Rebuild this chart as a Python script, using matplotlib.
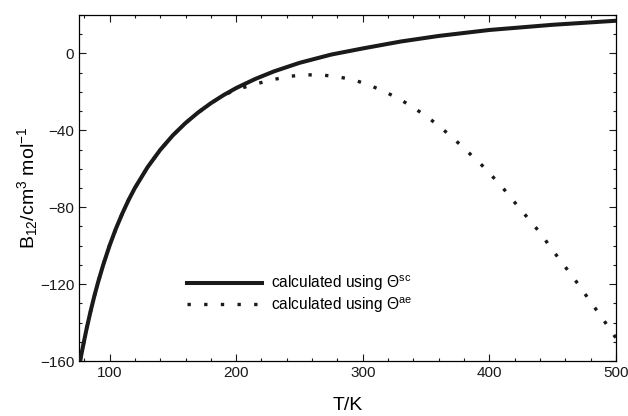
import matplotlib
matplotlib.use('Agg')
import matplotlib.pyplot as plt
from matplotlib.ticker import MultipleLocator

plt.rcParams['font.family'] = ['Liberation Sans', 'DejaVu Sans']
plt.rcParams['mathtext.fontset'] = 'custom'
plt.rcParams['mathtext.rm'] = 'Liberation Sans'
plt.rcParams['mathtext.it'] = 'Liberation Sans:italic'

## Data
# solid curve: B12 calculated using Theta^sc
t_sc = [76.8, 78, 80, 82, 85, 88, 91, 95, 100, 105, 110, 115, 120, 130, 140,
        150, 160, 170, 180, 190, 200, 215, 230, 250, 275, 300, 330, 360, 400,
        450, 500]
b_sc = [-160, -155.8, -149.2, -142.9, -134.2, -126.2, -118.9, -110.0, -100.0,
        -91.2, -83.4, -76.3, -70.0, -59.2, -50.2, -42.6, -36.2, -30.7, -25.9,
        -21.7, -18.0, -13.3, -9.3, -4.9, -0.6, 2.6, 6.2, 9.1, 12.2, 14.9, 17.0]

# dotted curve: B12 calculated using Theta^ae
t_ae = [76.8, 78, 80, 82, 85, 88, 91, 95, 100, 105, 110, 115, 120, 130, 140,
        150, 160, 170, 180, 190, 200, 217, 230, 242, 255, 269, 281, 294, 306,
        318, 330, 341, 352, 362, 372, 381, 391, 400, 409, 417, 425, 434, 442,
        449, 457, 465, 473, 480, 488, 495, 500]
b_ae = [-160, -155.8, -149.2, -142.9, -134.2, -126.2, -118.9, -110.0, -100.0,
        -91.2, -83.4, -76.3, -70.0, -59.2, -50.2, -42.6, -36.2, -30.7, -25.9,
        -21.8, -18.8, -15.6, -13.5, -11.9, -11.1, -11.3, -12.2, -14.0, -16.7,
        -20.1, -24.1, -28.6, -33.5, -38.8, -44.4, -50.1, -56.0, -62.3, -68.6,
        -75.1, -81.5, -88.4, -95.0, -101.6, -108.5, -115.5, -122.6, -129.5,
        -136.4, -143.5, -148]

labels = [r'calculated using $\Theta^{\mathrm{sc}}$',
          r'calculated using $\Theta^{\mathrm{ae}}$']

fig = plt.figure(figsize=(6.28, 4.16), dpi=100)
ax = fig.add_axes([0.126, 0.132, 0.855, 0.832])

ax.plot(t_ae, b_ae, color='#1a1a1a', lw=2.4, linestyle=(0, (1, 4)),
        label=labels[1], zorder=2)
ax.plot(t_sc, b_sc, color='#1a1a1a', lw=2.9, label=labels[0], zorder=3)

ax.set_xlim(76, 500)
ax.set_ylim(-160, 20)
ax.xaxis.set_major_locator(MultipleLocator(100))
ax.xaxis.set_minor_locator(MultipleLocator(20))
ax.yaxis.set_major_locator(MultipleLocator(40))
ax.yaxis.set_minor_locator(MultipleLocator(10))
ax.tick_params(which='both', direction='in', top=True, right=True,
               width=0.8, labelsize=11, colors='#1a1a1a')
ax.tick_params(which='major', length=5)
ax.tick_params(which='minor', length=2.5)
for s in ax.spines.values():
    s.set_linewidth(0.9)

ax.set_xlabel('T/K', fontsize=14, labelpad=12)
ax.set_ylabel(r'B$_{12}$/cm$^3$ mol$^{-1}$', fontsize=14, labelpad=0)

# legend: solid first, dotted second
h, l = ax.get_legend_handles_labels()
ax.legend([h[1], h[0]], [l[1], l[0]], loc='upper left',
          bbox_to_anchor=(0.19, 0.27), frameon=False, fontsize=11.2,
          handlelength=4.8, handletextpad=0.6, labelspacing=0.1,
          borderaxespad=0)

fig.savefig('out.png', dpi=100)
